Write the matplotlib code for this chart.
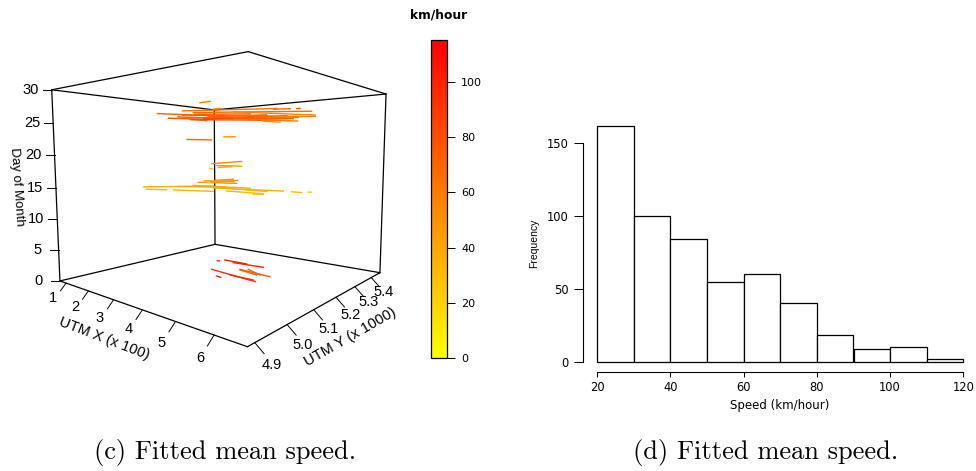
import numpy as np
import matplotlib
matplotlib.use('Agg')
import matplotlib.pyplot as plt
from matplotlib.colors import LinearSegmentedColormap, Normalize
from matplotlib.cm import ScalarMappable

plt.rcParams['font.family'] = ['Liberation Sans', 'DejaVu Sans']

# box limits of the 3d panel
x_lim = (0.7, 6.75)
y_lim = (4.88, 5.46)
z_lim = (0, 30)

x_ticks = [1, 2, 3, 4, 5, 6]
y_ticks = [4.9, 5.0, 5.1, 5.2, 5.3, 5.4]
z_ticks = [0, 5, 10, 15, 20, 25, 30]

# fitted speed along each trip piece: start and end in (UTM X, UTM Y, day), km/hour
trip_x0 = [2.81, 1.81, 2.07, 2.30, 2.40, 2.65, 2.58, 3.12, 3.12, 3.59, 4.29, 3.12, 4.53, 5.07, 2.81, 3.12,
           2.60, 2.90, 2.40, 3.00, 3.40, 2.70, 3.60, 4.60, 4.20,
           2.51, 3.37, 3.09, 3.20, 3.24, 2.77, 3.08, 1.50, 1.56, 2.19, 2.65, 3.12, 3.43, 4.06, 4.95, 5.34,
           2.30, 3.50, 2.90,
           3.16, 3.04, 2.61, 2.73, 3.13, 3.15, 3.69, 3.90, 3.75, 3.93, 3.79]
trip_y0 = [5.175, 5.113, 5.129, 5.143, 5.150, 5.165, 5.160, 5.193, 5.193, 5.220, 5.257, 5.193, 5.269, 5.294, 5.174, 5.193,
           5.160, 5.180, 5.150, 5.185, 5.210, 5.165, 5.220, 5.270, 5.255,
           5.155, 5.207, 5.190, 5.196, 5.199, 5.170, 5.189, 5.087, 5.091, 5.132, 5.162, 5.191, 5.210, 5.246, 5.294, 5.313,
           5.140, 5.215, 5.180,
           5.194, 5.187, 5.262, 5.282, 5.273, 5.180, 5.140, 5.169, 5.228, 5.242, 5.223]
trip_day0 = [28.8, 27.1, 26.3, 26.5, 27.5, 27.2, 26.1, 26.7, 26.1, 27.2, 25.6, 27.7, 27.5, 27.5, 26.8, 26.5,
             26.0, 26.2, 26.8, 26.4, 26.6, 26.9, 26.0, 26.3, 25.9,
             22.7, 23.1, 18.6, 18.3, 18.0, 15.4, 15.4, 14.6, 14.2, 14.1, 14.9, 14.5, 14.0, 13.5, 14.0, 14.0,
             14.7, 14.4, 15.7,
             15.8, 17.8, 0.5, 0.5, 0.5, 0.5, 0.5, 0.5, 0.5, 0.5, 0.5]
trip_x1 = [3.04, 3.12, 3.12, 4.29, 4.60, 5.42, 2.97, 5.11, 4.84, 5.50, 4.68, 3.28, 4.92, 5.15, 3.75, 4.37,
           4.60, 4.80, 4.40, 5.00, 5.20, 4.00, 4.90, 5.50, 5.10,
           3.08, 3.63, 3.78, 3.78, 3.55, 3.68, 3.67, 3.12, 2.03, 3.12, 3.98, 4.76, 4.29, 4.29, 5.19, 5.42,
           3.40, 4.40, 3.60,
           3.59, 3.11, 2.68, 3.53, 4.12, 4.77, 3.86, 4.65, 4.80, 4.51, 4.44]
trip_y1 = [5.189, 5.193, 5.193, 5.257, 5.273, 5.309, 5.183, 5.297, 5.284, 5.313, 5.277, 5.202, 5.287, 5.298, 5.228, 5.261,
           5.270, 5.280, 5.260, 5.290, 5.300, 5.240, 5.290, 5.315, 5.295,
           5.190, 5.222, 5.231, 5.231, 5.217, 5.225, 5.224, 5.191, 5.122, 5.191, 5.242, 5.284, 5.259, 5.259, 5.306, 5.316,
           5.210, 5.260, 5.220,
           5.219, 5.191, 5.263, 5.285, 5.285, 5.162, 5.137, 5.170, 5.220, 5.217, 5.212]
trip_day1 = [29.0, 26.6, 26.0, 25.8, 27.6, 27.0, 25.8, 26.1, 26.4, 26.4, 25.4, 27.8, 27.5, 27.5, 26.1, 26.6,
             25.7, 26.0, 26.4, 25.9, 26.2, 26.8, 25.6, 26.2, 25.5,
             22.6, 23.1, 19.0, 18.2, 18.1, 15.8, 15.3, 14.8, 14.1, 13.9, 14.5, 14.1, 13.6, 13.5, 13.9, 14.0,
             14.6, 14.0, 15.6,
             16.0, 17.7, 0.5, 0.5, 0.5, 0.5, 0.5, 0.5, 0.5, 0.5, 0.5]
trip_speed = [62, 72, 80, 75, 65, 68, 62, 72, 75, 55, 50, 60, 70, 75, 85, 78,
              80, 85, 74, 72, 66, 76, 62, 55, 58,
              68, 50, 52, 45, 42, 48, 50, 38, 33, 35, 38, 36, 33, 30, 30, 25,
              40, 32, 45,
              47, 30, 100, 102, 100, 95, 100, 100, 75, 70, 72]

# histogram of panel d
hist_edges = [20, 30, 40, 50, 60, 70, 80, 90, 100, 110, 120]
hist_counts = [162, 100, 84, 55, 60, 40, 18, 9, 10, 2]

speed_max = 115
bar_ticks = [0, 20, 40, 60, 80, 100]

# camera matrix fitted to the box corners, maps (x, y, z, 1) to image pixels
camera = np.array([[-6.84745, -171.57263, 0.14219, 817.66811],
                   [3.65925, -45.57938, 2.64757, 105.49596],
                   [0.02332, -0.291684, 0.000598, 1.0]])

W, H = 976, 471
fig = plt.figure(figsize=(W / 100, H / 100), dpi=100)
canvas = fig.add_axes([0, 0, 1, 1])
canvas.set_xlim(0, W)
canvas.set_ylim(H, 0)
canvas.axis('off')


def project(x, y, z):
    p = camera @ np.array([x, y, z, 1.0])
    return p[0] / p[2], p[1] / p[2]


def px_axes(left, top, right, bottom):
    return fig.add_axes([left / W, 1 - bottom / H, (right - left) / W, (bottom - top) / H])


heat = LinearSegmentedColormap.from_list('heat', ['#ffff00', '#ff8000', '#ff0000'])
norm = Normalize(0, speed_max)

# box edges, the three front edges are left out like the original
x0, x1 = x_lim
y0, y1 = y_lim
z0, z1 = z_lim
edges = [((x0, y0, z0), (x1, y0, z0)), ((x1, y0, z0), (x1, y1, z0)), ((x1, y1, z0), (x0, y1, z0)),
         ((x0, y1, z0), (x0, y0, z0)), ((x0, y0, z1), (x1, y0, z1)), ((x1, y0, z1), (x1, y1, z1)),
         ((x1, y1, z1), (x0, y1, z1)), ((x0, y1, z1), (x0, y0, z1)), ((x0, y0, z0), (x0, y0, z1)),
         ((x1, y1, z0), (x1, y1, z1)), ((x0, y1, z0), (x0, y1, z1))]
for a, b in edges:
    pa, pb = project(*a), project(*b)
    canvas.plot([pa[0], pb[0]], [pa[1], pb[1]], color='black', lw=0.9, solid_capstyle='round', zorder=1)

# ticks and their labels
tick_font = 10.5
for i, t in enumerate(x_ticks):
    f = i / (len(x_ticks) - 1)
    px, py = project(t, y0, z0)
    canvas.plot([px, px - 5.7 - f], [py, py + 7.7 + 3.3 * f], color='black', lw=0.7)
    canvas.text(px - 13.4 - 0.6 * f, py + 15 + 7.6 * f, str(t), fontsize=tick_font, ha='center', va='center')
for i, t in enumerate(y_ticks):
    f = i / (len(y_ticks) - 1)
    px, py = project(x1, t, z0)
    canvas.plot([px, px + 9.3 - 1.3 * f], [py, py + 11 - 2 * f], color='black', lw=0.7)
    canvas.text(px + 16.7 - 4 * f, py + 22.4 - 8.4 * f, '%.1f' % t, fontsize=tick_font, ha='center', va='center')
for t in z_ticks:
    px, py = project(x0, y0, t)
    canvas.plot([px, px - 9], [py, py], color='black', lw=0.7)
    canvas.text(px - 21, py, str(t), fontsize=tick_font, ha='center', va='center')

canvas.text(17, 187, 'Day of Month', fontsize=9.5, rotation=-86, ha='center', va='center', rotation_mode='anchor')
canvas.text(104, 339, 'UTM X (x 100)', fontsize=tick_font, rotation=-21, ha='center', va='center', rotation_mode='anchor')
canvas.text(350, 337, 'UTM Y (x 1000)', fontsize=tick_font, rotation=30, ha='center', va='center', rotation_mode='anchor')

# trip pieces
for i in range(len(trip_speed)):
    pa = project(trip_x0[i], trip_y0[i], trip_day0[i])
    pb = project(trip_x1[i], trip_y1[i], trip_day1[i])
    canvas.plot([pa[0], pb[0]], [pa[1], pb[1]], color=heat(norm(trip_speed[i])), lw=1.0, zorder=2)

# colour bar
cax = px_axes(430.7, 40, 446.7, 358.3)
cb = fig.colorbar(ScalarMappable(norm=norm, cmap=heat), cax=cax, ticks=bar_ticks)
cb.outline.set_linewidth(0.9)
cb.ax.tick_params(length=5.5, width=0.7, pad=5)
for lab in cb.ax.get_yticklabels():
    lab.set_family('DejaVu Sans')
    lab.set_fontsize(8)
canvas.text(439, 15, 'km/hour', family='DejaVu Sans', fontsize=8.8, fontweight='bold', ha='center', va='center')

# histogram
ax = px_axes(597.3, 121.5, 963.3, 361.7)
ax.bar(hist_edges[:-1], hist_counts, width=np.diff(hist_edges), align='edge', facecolor='white',
       edgecolor='black', linewidth=0.9, clip_on=False)
ax.set_xlim(20, 120)
ax.set_ylim(0, 165)
ax.patch.set_visible(False)
for side in ['top', 'right']:
    ax.spines[side].set_visible(False)
ax.spines['left'].set_position(('outward', 10.5))
ax.spines['left'].set_bounds(0, 150)
ax.spines['bottom'].set_position(('outward', 7.2))
ax.spines['bottom'].set_bounds(20, 120)
for side in ['left', 'bottom']:
    ax.spines[side].set_linewidth(0.8)
ax.set_xticks([20, 40, 60, 80, 100, 120])
ax.set_yticks([0, 50, 100, 150])
ax.tick_params(axis='x', length=3.6, width=0.7, pad=3)
ax.tick_params(axis='y', length=6.5, width=0.7, pad=3.5)
for lab in ax.get_xticklabels() + ax.get_yticklabels():
    lab.set_family('DejaVu Sans')
    lab.set_fontsize(8.3)
canvas.text(780, 405, 'Speed (km/hour)', family='DejaVu Sans', fontsize=8.5, ha='center', va='center')
canvas.text(534, 243, 'Frequency', fontsize=7.5, rotation=90, ha='center', va='center')

# captions
canvas.text(225, 452, '(c) Fitted mean speed.', family='cmr10', fontsize=19, ha='center', va='center')
canvas.text(766, 452, '(d) Fitted mean speed.', family='cmr10', fontsize=19, ha='center', va='center')

fig.savefig('out.png', dpi=100)
